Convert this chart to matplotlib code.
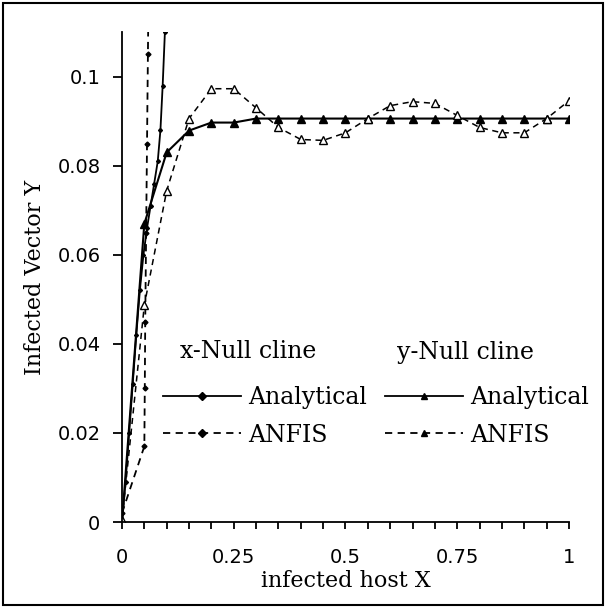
import numpy as np
import matplotlib.pyplot as plt
from matplotlib.lines import Line2D
from matplotlib.patches import Rectangle

# y-null cline, sampled every 0.05 on X
x_grid = [0, 0.05, 0.1, 0.15, 0.2, 0.25, 0.3, 0.35, 0.4, 0.45, 0.5,
          0.55, 0.6, 0.65, 0.7, 0.75, 0.8, 0.85, 0.9, 0.95, 1.0]
y_null_analytical = [0, 0.067, 0.083, 0.0879, 0.0897, 0.0897, 0.0906, 0.0906,
                     0.0906, 0.0906, 0.0906, 0.0906, 0.0906, 0.0906, 0.0906,
                     0.0906, 0.0906, 0.0906, 0.0906, 0.0906, 0.0906]
y_null_anfis = [0.0005, 0.0487, 0.0744, 0.0906, 0.0973, 0.0973, 0.093, 0.0886,
                0.0859, 0.0857, 0.0874, 0.0906, 0.0935, 0.0944, 0.094, 0.0913,
                0.0886, 0.0874, 0.0874, 0.0906, 0.0946]

# x-null cline (steep, leaves the plot near X = 0.1)
x_null_x_analytical = [0, 0.008, 0.016, 0.024, 0.032, 0.04, 0.048, 0.056,
                       0.064, 0.072, 0.08, 0.086, 0.091, 0.096, 0.1]
x_null_y_analytical = [0, 0.009, 0.02, 0.031, 0.042, 0.052, 0.06, 0.066,
                       0.071, 0.076, 0.081, 0.088, 0.098, 0.11, 0.12]
x_null_x_anfis = [0, 0.05, 0.051, 0.052, 0.054, 0.056, 0.058, 0.06]
x_null_y_anfis = [0.002, 0.017, 0.03, 0.045, 0.065, 0.085, 0.105, 0.125]

serif = "DejaVu Serif"
dash = (0, (4, 3))

fig = plt.figure(figsize=(6.06, 6.07), dpi=100)
ax = fig.add_axes([0.2013, 0.140, 0.7376, 0.807])

ax.plot(x_null_x_analytical, x_null_y_analytical, "k-", lw=1.3,
        marker="D", ms=2)
ax.plot(x_null_x_anfis, x_null_y_anfis, color="k", ls=dash, lw=1.3,
        marker="D", ms=2.5)
ax.plot(x_grid, y_null_analytical, "k-", lw=1.5, marker="^", ms=6)
ax.plot(x_grid, y_null_anfis, color="k", ls=dash, lw=1.1,
        marker="^", ms=6, mfc="white", mec="k")

ax.set_xlim(0, 1)
ax.set_ylim(0, 0.11)
for s in ["top", "right"]:
    ax.spines[s].set_visible(False)
for s in ["left", "bottom"]:
    ax.spines[s].set_linewidth(1.3)

ax.set_xticks(np.arange(0, 1.0001, 0.05))
ax.set_xticklabels(["0" if i == 0 else ("1" if i == 20 else
                    (f"{i*0.05:g}" if i % 5 == 0 else "")) for i in range(21)])
ax.set_yticks([0, 0.02, 0.04, 0.06, 0.08, 0.1])
ax.set_yticklabels(["0", "0.02", "0.04", "0.06", "0.08", "0.1"])
ax.tick_params(axis="x", direction="out", length=5, width=1.3, pad=14,
               labelsize=14)
ax.tick_params(axis="y", direction="out", length=6.5, width=1.3, pad=9,
               labelsize=14)

ax.set_xlabel("infected host X", family=serif, fontsize=16, labelpad=2)
ax.set_ylabel("Infected Vector Y", family=serif, fontsize=16, labelpad=8)

# legend, two columns with headings
fig.text(180 / 606, 1 - 352 / 607, "x-Null cline", family=serif,
         fontsize=17, va="center", ha="left")
fig.text(397 / 606, 1 - 352 / 607, "y-Null cline", family=serif,
         fontsize=17, va="center", ha="left")

h_x = [Line2D([], [], color="k", lw=1.3, marker="D", ms=4),
       Line2D([], [], color="k", lw=1.3, ls=dash, marker="D", ms=4)]
h_y = [Line2D([], [], color="k", lw=1.3, marker="^", ms=5),
       Line2D([], [], color="k", lw=1.3, ls=dash, marker="^", ms=5)]
labels = ["Analytical", "ANFIS"]

common = dict(loc="upper left", frameon=False,
              prop={"family": serif, "size": 17},
              handlelength=3.3, handletextpad=0.3, labelspacing=0.62,
              borderpad=0, borderaxespad=0)
fig.legend(h_x, labels, bbox_to_anchor=(163 / 606, 1 - 386 / 607), **common)
fig.legend(h_y, labels, bbox_to_anchor=(385 / 606, 1 - 386 / 607), **common)

fig.patches.append(Rectangle((0.005, 0.004), 0.99, 0.991, fill=False,
                             lw=1.5, ec="k", transform=fig.transFigure,
                             figure=fig))

fig.savefig("out.png", dpi=100)
